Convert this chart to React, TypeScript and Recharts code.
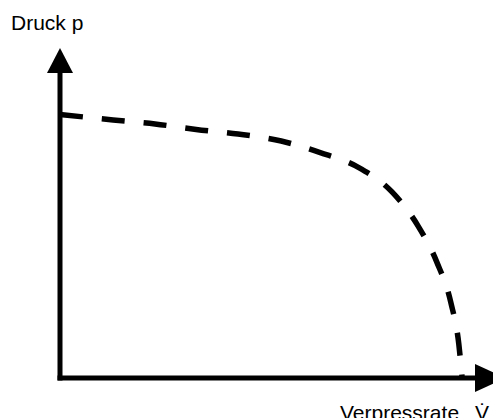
import { Line, LineChart, XAxis, YAxis } from "recharts";

// Verpressrate (x) vs. Druck (y) in relative units 0..100
const rate = [0, 12.8, 22.9, 32.8, 42.9, 53.3, 62.7, 72.0, 80.0, 86.3, 90.8, 94.2, 96.1, 96.9];
const pressure = [86.4, 84.6, 83.3, 81.5, 80.0, 77.7, 73.9, 69.0, 61.0, 49.8, 38.0, 24.6, 11.1, 0];

const yTitle = "Druck p";
const xTitle = "Verpressrate";
const xSymbol = "V\u0307";

const data = rate.map((r, i) => ({ rate: r, pressure: pressure[i] }));

const font = "'Liberation Sans', Arial, sans-serif";

export default function App() {
  const label = {
    position: "absolute" as const,
    fontFamily: font,
    fontSize: 21,
    lineHeight: "21px",
    color: "#000",
    whiteSpace: "nowrap" as const,
  };

  return (
    <div style={{ position: "absolute", left: 0, top: 0, width: 493, height: 418, overflow: "hidden", background: "#fff" }}>
      <LineChart
        width={493}
        height={418}
        data={data}
        margin={{ top: 73, right: 18, left: 0, bottom: 0 }}
      >
        <defs>
          <marker
            id="arrowY"
            markerUnits="userSpaceOnUse"
            markerWidth={25}
            markerHeight={26}
            viewBox="0 0 25 26"
            refX={0}
            refY={13}
            orient="auto-start-reverse"
          >
            <path d="M0,0 L25,13 L0,26 Z" fill="#000" />
          </marker>
          <marker
            id="arrowX"
            markerUnits="userSpaceOnUse"
            markerWidth={31}
            markerHeight={28}
            viewBox="0 0 31 28"
            refX={0}
            refY={14}
            orient="auto"
          >
            <path d="M0,0 L31,14 L0,28 Z" fill="#000" />
          </marker>
        </defs>
        <XAxis
          dataKey="rate"
          type="number"
          domain={[0, 100]}
          height={40}
          tick={false}
          tickLine={false}
          axisLine={{ stroke: "#000", strokeWidth: 5, strokeLinecap: "square", markerEnd: "url(#arrowX)" }}
        />
        <YAxis
          type="number"
          domain={[0, 100]}
          width={60}
          tick={false}
          tickLine={false}
          axisLine={{ stroke: "#000", strokeWidth: 5, strokeLinecap: "square", markerStart: "url(#arrowY)" }}
        />
        <Line
          type="monotone"
          dataKey="pressure"
          stroke="#000"
          strokeWidth={5.5}
          strokeDasharray="23 19"
          dot={false}
          activeDot={false}
          isAnimationActive={false}
        />
      </LineChart>
      <div style={{ ...label, left: 11, top: 12 }}>{yTitle}</div>
      <div style={{ ...label, left: 340, top: 402 }}>{xTitle}</div>
      <div style={{ ...label, left: 475, top: 402 }}>{xSymbol}</div>
    </div>
  );
}
